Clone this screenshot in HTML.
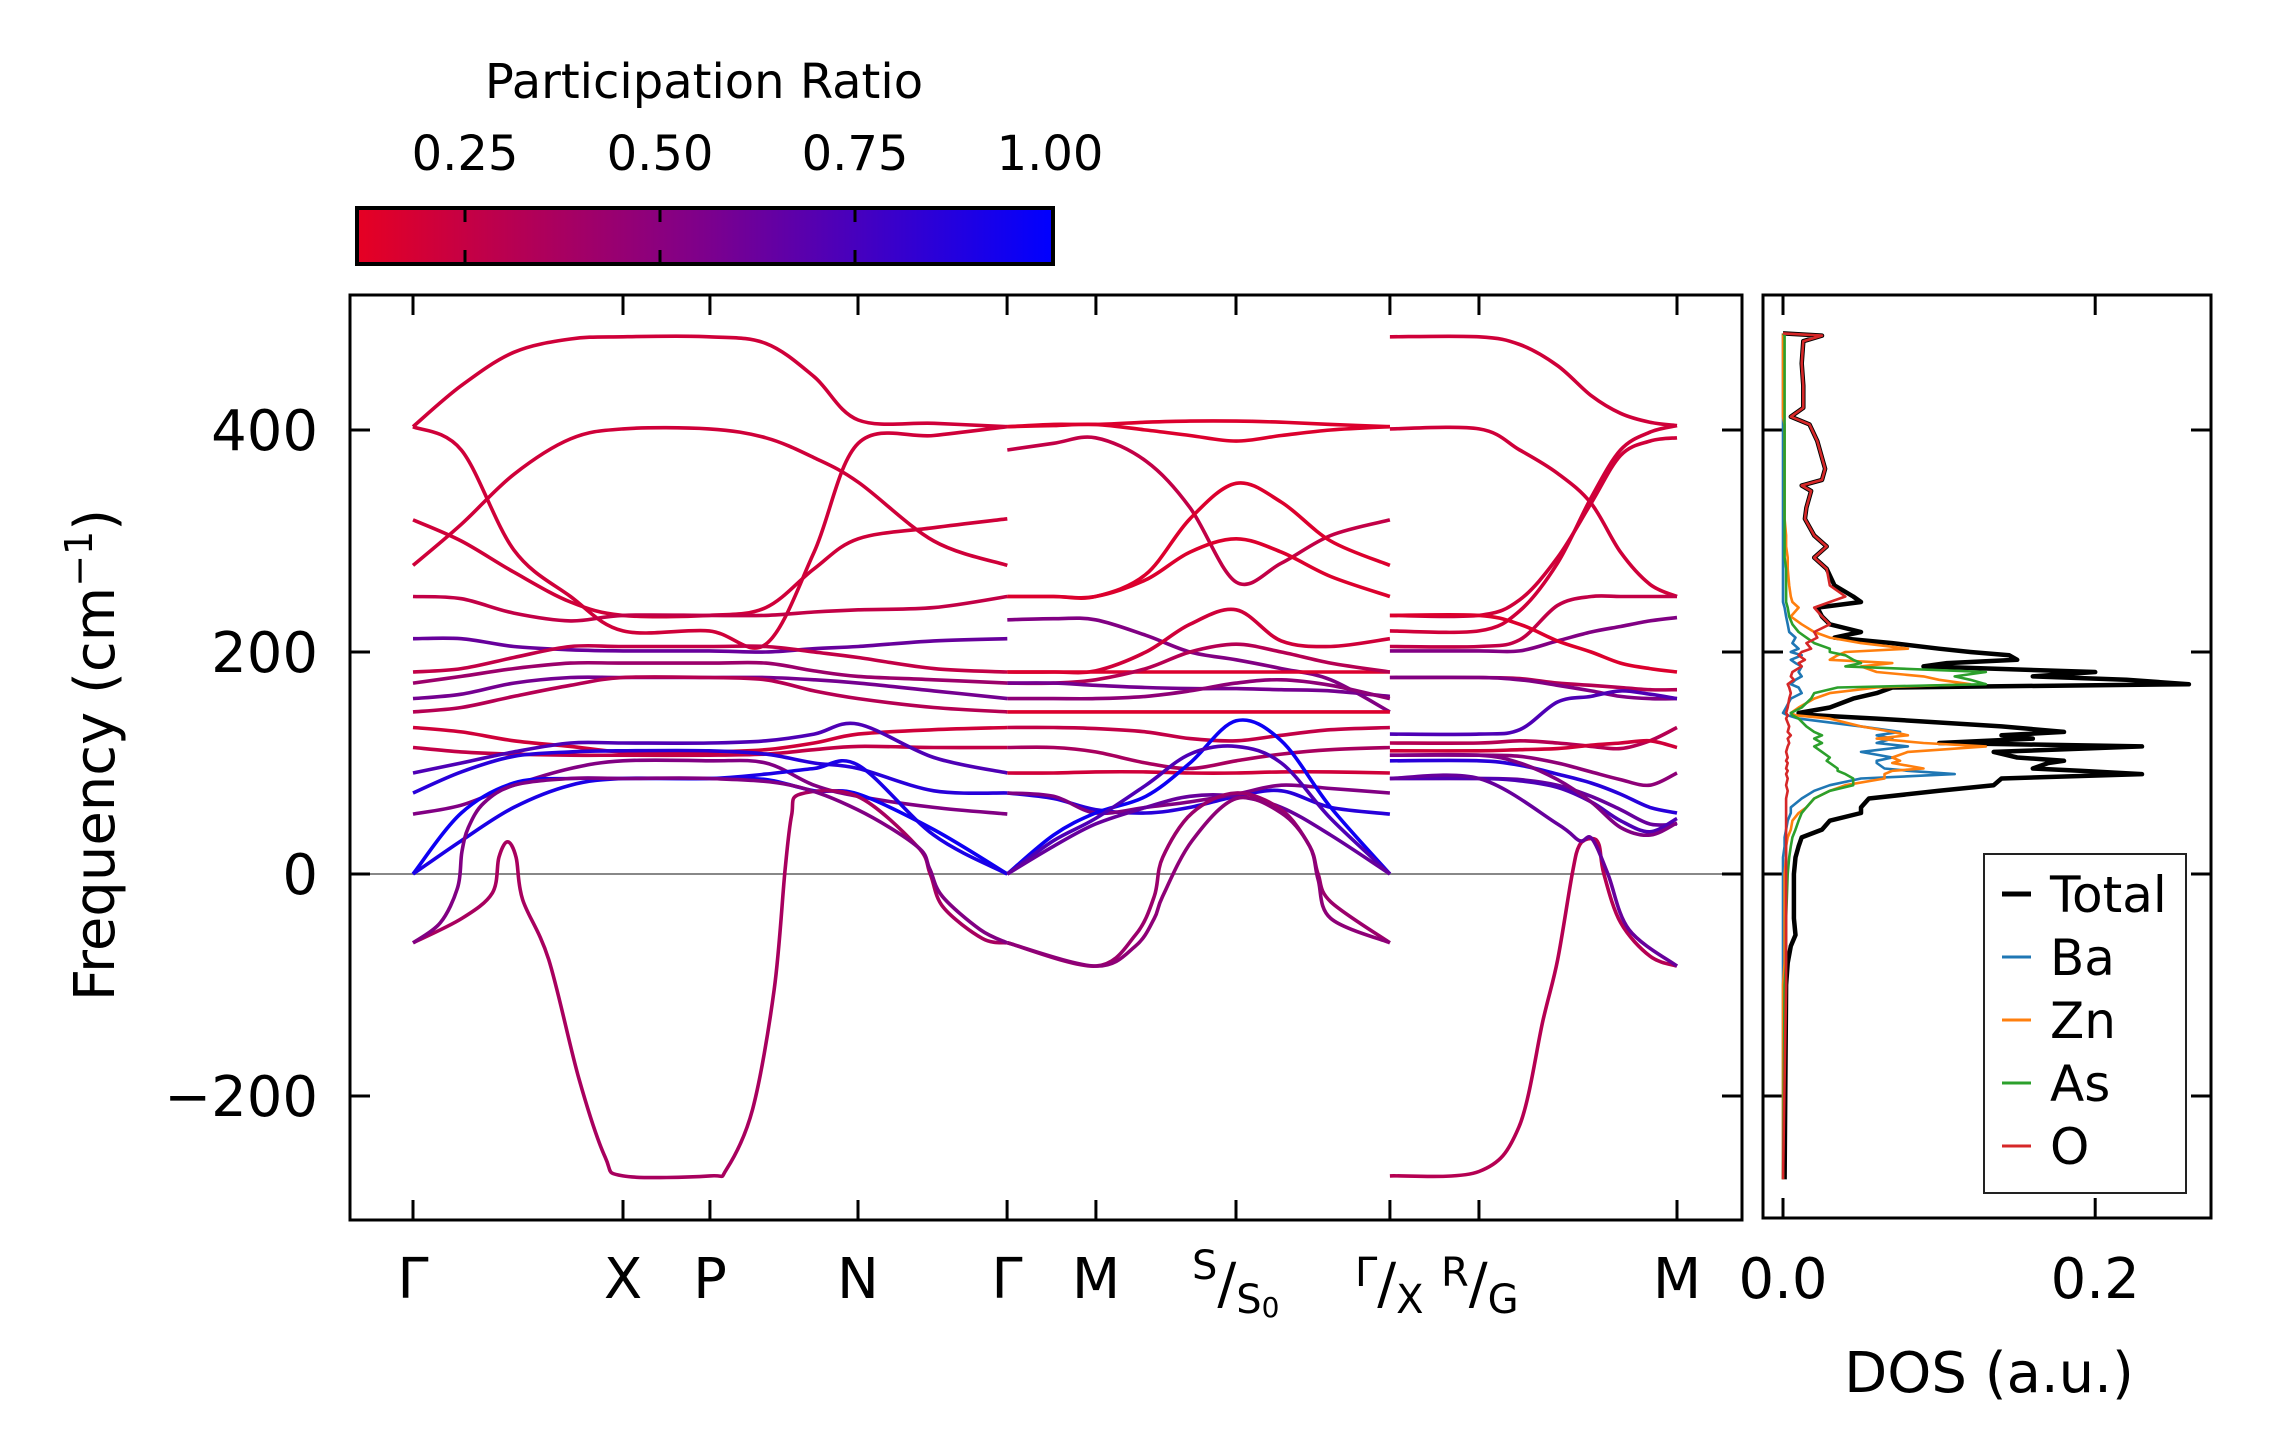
<!DOCTYPE html>
<html><head><meta charset="utf-8">
<style>
html,body{margin:0;padding:0;background:#fff;}
svg{display:block;font-family:"DejaVu Sans","Liberation Sans",sans-serif;}
</style></head>
<body>
<svg id="fig" width="2271" height="1455" viewBox="0 0 2271 1455" xmlns="http://www.w3.org/2000/svg">
<defs>
<linearGradient id="cmap" x1="0" x2="1" y1="0" y2="0">
<stop offset="0" stop-color="rgb(230,0,35)"/>
<stop offset="0.5" stop-color="rgb(125,0,140)"/>
<stop offset="1" stop-color="rgb(0,0,255)"/>
</linearGradient>
<clipPath id="mainclip"><rect x="350" y="295" width="1392" height="925"/></clipPath>
<clipPath id="dosclip"><rect x="1763" y="295" width="448" height="925"/></clipPath>
</defs>
<g>
<text x="704" y="98" font-size="48" text-anchor="middle">Participation Ratio</text>
<rect x="357" y="208" width="696" height="56" fill="url(#cmap)" stroke="#000" stroke-width="4"/>
<g id="cbticks"></g>
</g>
<g id="main">
<line x1="350" y1="874" x2="1742" y2="874" stroke="#888" stroke-width="2"/>
<g id="bands" clip-path="url(#mainclip)"></g>
<rect x="350" y="295" width="1392" height="925" fill="none" stroke="#000" stroke-width="3"/>
<g id="mainticks"></g>
<text x="0" y="0" font-size="56" text-anchor="middle" transform="translate(114,755) rotate(-90)">Frequency (cm<tspan dy="-22" font-size="38">−1</tspan><tspan dy="22">)</tspan></text>
<g font-size="56">
<text x="413" y="1298" text-anchor="middle">Γ</text>
<text x="623" y="1298" text-anchor="middle">X</text>
<text x="710" y="1298" text-anchor="middle">P</text>
<text x="858" y="1298" text-anchor="middle">N</text>
<text x="1007" y="1298" text-anchor="middle">Γ</text>
<text x="1096" y="1298" text-anchor="middle">M</text>
<text x="1677" y="1298" text-anchor="middle">M</text>
<text x="1192" y="1279" font-size="40">S<tspan font-size="56" dy="24">/</tspan><tspan font-size="40" dy="10">S</tspan><tspan font-size="28" dy="4">0</tspan></text>
<text x="1355" y="1286" font-size="40">Γ<tspan font-size="56" dy="17">/</tspan><tspan font-size="40" dy="10">X</tspan></text>
<text x="1441" y="1286" font-size="40">R<tspan font-size="56" dy="17">/</tspan><tspan font-size="40" dy="10">G</tspan></text>
</g>
</g>
<g id="dos">
<g id="doslines" clip-path="url(#dosclip)"></g>
<rect x="1763" y="295" width="448" height="923" fill="none" stroke="#000" stroke-width="3"/>
<g id="dosticks"></g>
<text x="1989" y="1392" font-size="56" text-anchor="middle">DOS (a.u.)</text>
<g>
<rect x="1984" y="854" width="202" height="339" fill="#fff" stroke="#222" stroke-width="2"/>
<g id="legend"></g>
</g>
</g>
<g id="yticklabels" font-size="56" text-anchor="end"></g>
</svg>
<script>
const freqTicks = [400, 200, 0, -200];
const freqTickLabels = ["400", "200", "0", "\u2212200"];
const kTicks = [0, 1.0, 1.414, 2.119, 2.829, 3.252, 3.919, 4.652, 5.076, 6.019];
const cbTicks = [0.25, 0.50, 0.75, 1.00];
const cbTickLabels = ["0.25", "0.50", "0.75", "1.00"];
const dosTicks = [0.0, 0.2];
const dosTickLabels = ["0.0", "0.2"];

const seg1K = [0, 0.23, 0.48, 0.75, 1.0, 1.41, 1.68, 1.91, 2.12, 2.48, 2.83];
const seg1Bands = [
 [403,440,470,482,484,484,478,448,409,406,403],
 [403,382,292,250,219,219,207,290,388,395,403],
 [278,315,360,392,401,401,393,375,353,300,278],
 [319,300,272,245,233,233,240,275,302,312,320],
 [250,248,235,228,233,233,233,236,238,240,250],
 [212,212,205,202,201,201,200,203,205,210,212],
 [182,185,195,205,205,205,205,200,195,185,182],
 [172,178,185,190,190,190,190,183,178,175,172],
 [158,162,172,177,177,177,177,175,172,165,158],
 [146,150,160,170,177,177,175,165,158,150,146],
 [132,128,120,115,110,110,112,118,126,130,132],
 [114,110,108,107,107,107,108,112,115,114,114],
 [91,100,110,118,118,118,120,126,135,105,91],
 [73,92,106,110,111,111,108,100,95,75,73],
 [54,62,80,95,102,102,100,80,70,60,54],
 [0,55,82,86,86,86,85,75,72,40,0],
 [0,30,60,80,86,86,90,95,98,35,0]
];
const seg1PR = [0.2,0.2,0.2,0.2,0.25,0.6,0.25,0.4,0.55,0.3,0.2,0.25,0.7,0.85,0.5,0.95,0.9];
const seg1SoftAK = [0,0.233,0.378,0.409,0.45,0.491,0.522,0.646,0.791,0.915,1.0,1.414,1.493,1.617,1.72,1.772,1.803,1.844,2.116,2.401,2.463,2.525,2.711,2.829];
const seg1SoftAF = [-62,-40,-17,15,29,15,-23,-77,-185,-255,-272,-272,-266,-212,-104,4,53,72,70,25,0,-30,-58,-62];
const seg1SoftBK = [0,0.13,0.213,0.233,0.264,0.337,0.481,0.75,1.0,1.414,1.8,2.116,2.40,2.46,2.52,2.70,2.829];
const seg1SoftBF = [-62,-44,-12,20,42,64,80,86,86,86,80,58,25,5,-20,-50,-62];

const seg2K = [2.83, 3.05, 3.25, 3.49, 3.70, 3.92, 4.135, 4.37, 4.652];
const seg2Bands = [
 [403,405,405,407,408,408,407,405,403],
 [403,404,405,400,395,390,395,400,403],
 [382,388,393,372,330,263,280,305,319],
 [250,250,250,270,320,352,335,300,278],
 [250,250,250,265,290,302,290,268,250],
 [229,230,229,215,200,193,185,175,146],
 [182,182,183,200,225,238,210,205,212],
 [182,182,182,182,182,182,182,182,182],
 [172,172,175,185,200,207,200,190,182],
 [172,172,170,168,167,167,166,165,160],
 [158,158,158,160,165,172,175,170,158],
 [146,146,146,146,146,146,146,146,146],
 [132,132,131,128,122,120,125,130,132],
 [114,114,110,100,95,102,108,112,114],
 [91,91,92,92,91,91,92,92,91],
 [73,68,58,55,60,70,75,60,54],
 [73,70,55,60,65,72,80,77,73],
 [0,35,55,70,100,138,120,60,0],
 [0,30,50,80,108,115,100,50,0],
 [0,25,45,60,70,70,60,35,0]
];
const seg2PR = [0.15,0.15,0.25,0.15,0.15,0.5,0.2,0.15,0.3,0.55,0.45,0.15,0.25,0.35,0.2,0.85,0.5,0.95,0.7,0.6];
const seg2SoftK = [2.83,3.25,3.44,3.53,3.57,3.71,3.92,4.135,4.27,4.31,4.37,4.652];
const seg2SoftAF = [-62,-83,-55,-20,15,55,73,58,25,0,-25,-62];
const seg2SoftBF = [-62,-83,-65,-40,-20,30,68,55,25,-5,-40,-62];

const seg3K = [4.652, 5.076, 5.27, 5.45, 5.61, 5.75, 5.89, 6.019];
const seg3Bands = [
 [484,484,477,458,431,415,407,404],
 [401,401,382,361,334,290,261,250],
 [233,233,247,285,334,377,390,393],
 [219,219,237,280,339,382,398,404],
 [205,205,211,242,250,250,250,250],
 [201,201,201,210,218,223,228,231],
 [233,233,225,210,200,190,185,182],
 [177,177,176,172,170,168,166,166],
 [177,177,175,170,165,160,158,158],
 [126,126,130,155,160,165,162,158],
 [118,118,120,118,115,113,120,132],
 [111,111,112,113,116,118,120,114],
 [107,107,106,100,92,85,80,91],
 [102,102,98,90,82,72,60,55],
 [86,86,85,80,70,58,45,45],
 [86,86,84,78,65,48,38,50],
 [107,107,100,85,65,42,35,46]
];
const seg3PR = [0.2,0.2,0.2,0.2,0.25,0.5,0.15,0.3,0.5,0.7,0.3,0.2,0.45,0.85,0.6,0.7,0.5];
const seg3SoftAK = [4.652,5.076,5.266,5.382,5.451,5.52,5.555,5.613,5.648,5.671,5.751,5.89,6.019];
const seg3SoftAF = [-272,-268,-228,-131,-77,0,26,32,26,0,-44,-74,-83];
const seg3SoftBK = [4.652,5.076,5.45,5.555,5.613,5.69,5.79,6.019];
const seg3SoftBF = [86,86,45,30,32,0,-50,-83];

const dosFreq = [487,485,480,460,440,420,412,405,390,365,355,350,345,330,320,305,295,285,275,260,250,245,240,232,225,218,213,208,203,200,197,193,190,187,182,178,175,171,168,163,158,150,145,143,140,133,128,125,122,118,115,110,105,102,100,95,93,90,86,80,75,68,60,55,48,40,33,25,15,0,-40,-55,-65,-80,-100,-275];
const dosTotal = [0,0.025,0.013,0.012,0.013,0.013,0.005,0.017,0.022,0.027,0.025,0.012,0.018,0.015,0.014,0.02,0.028,0.02,0.028,0.033,0.045,0.05,0.022,0.025,0.03,0.05,0.033,0.07,0.1,0.12,0.145,0.15,0.105,0.09,0.2,0.16,0.22,0.26,0.07,0.06,0.045,0.03,0.01,0.02,0.06,0.14,0.18,0.14,0.16,0.1,0.23,0.135,0.15,0.18,0.17,0.16,0.19,0.23,0.14,0.135,0.1,0.055,0.05,0.05,0.03,0.025,0.012,0.01,0.008,0.007,0.007,0.008,0.005,0.003,0.002,0.001];
const dosO = [0,0.025,0.013,0.012,0.013,0.013,0.005,0.017,0.022,0.027,0.025,0.012,0.018,0.015,0.014,0.02,0.028,0.02,0.028,0.03,0.04,0.03,0.02,0.025,0.03,0.02,0.022,0.015,0.018,0.012,0.01,0.014,0.01,0.012,0.006,0.005,0.007,0.003,0.004,0.005,0.004,0.003,0.002,0.003,0.002,0.004,0.003,0.005,0.003,0.004,0.003,0.002,0.003,0.002,0.003,0.002,0.003,0.002,0.003,0.002,0.003,0.002,0.002,0.002,0.002,0.002,0.002,0.002,0.002,0.002,0.002,0.002,0.002,0.002,0.002,0];
const dosZn = [0,0,0,0,0,0,0,0.001,0.001,0.001,0.001,0.001,0.001,0.001,0.001,0.002,0.002,0.003,0.003,0.004,0.005,0.006,0.01,0.005,0.012,0.02,0.03,0.05,0.08,0.04,0.035,0.03,0.07,0.05,0.06,0.09,0.1,0.12,0.06,0.03,0.02,0.01,0.005,0.008,0.03,0.05,0.07,0.08,0.06,0.09,0.13,0.08,0.07,0.075,0.07,0.09,0.07,0.065,0.065,0.04,0.03,0.02,0.015,0.01,0.006,0.005,0.003,0.002,0.002,0.001,0.001,0.001,0.001,0.001,0,0];
const dosBa = [0,0,0,0,0,0,0,0,0,0,0,0,0,0,0,0,0,0,0,0,0,0,0.001,0.002,0.003,0.004,0.008,0.006,0.01,0.005,0.012,0.005,0.008,0.012,0.01,0.012,0.008,0.005,0.01,0.012,0.005,0.002,0,0.003,0.01,0.05,0.075,0.06,0.07,0.06,0.08,0.05,0.07,0.06,0.06,0.065,0.08,0.11,0.05,0.03,0.02,0.012,0.005,0.005,0.003,0.002,0.001,0.001,0,0,0,0,0,0,0,0];
const dosAs = [0,0.001,0.001,0.001,0.001,0.001,0.001,0.001,0.001,0.001,0.001,0.001,0.001,0.001,0.001,0.001,0.001,0.001,0.002,0.002,0.002,0.002,0.003,0.004,0.006,0.01,0.015,0.02,0.03,0.03,0.04,0.045,0.05,0.04,0.13,0.11,0.12,0.13,0.035,0.02,0.018,0.012,0.005,0.006,0.01,0.015,0.02,0.025,0.02,0.025,0.02,0.025,0.03,0.028,0.03,0.035,0.035,0.04,0.045,0.045,0.03,0.02,0.015,0.012,0.01,0.008,0.006,0.005,0.004,0.003,0.002,0.002,0.002,0.002,0.001,0];
const dosNames = ["Total","Ba","Zn","As","O"];
const dosColors = ["#000000","#1f77b4","#ff7f0e","#2ca02c","#d62728"];

const NS = "http://www.w3.org/2000/svg";
function xk(k){ return 413 + k*210; }
function yf(f){ return 874 - f*1.11; }
function xd(d){ return 1783 + d*1561; }
function xcb(v){ return 270 + v*780; }
function prColor(pr){
  let t = (pr-0.11)/0.89; t = Math.max(0, Math.min(1, t));
  const r = Math.round(230*(1-t)), b = Math.round(35 + 220*t);
  return "rgb(" + r + ",0," + b + ")";
}
function smoothPath(pts){
  let d = "M" + pts[0][0].toFixed(1) + "," + pts[0][1].toFixed(1);
  for(let i=0;i<pts.length-1;i++){
    const p0 = pts[Math.max(0,i-1)], p1 = pts[i], p2 = pts[i+1], p3 = pts[Math.min(pts.length-1,i+2)];
    const c1x = p1[0] + (p2[0]-p0[0])/6, c1y = p1[1] + (p2[1]-p0[1])/6;
    const c2x = p2[0] - (p3[0]-p1[0])/6, c2y = p2[1] - (p3[1]-p1[1])/6;
    d += " C" + c1x.toFixed(1) + "," + c1y.toFixed(1) + " " + c2x.toFixed(1) + "," + c2y.toFixed(1) + " " + p2[0].toFixed(1) + "," + p2[1].toFixed(1);
  }
  return d;
}
function line(parent, x1, y1, x2, y2, w, c){
  const l = document.createElementNS(NS, "line");
  l.setAttribute("x1", x1); l.setAttribute("y1", y1); l.setAttribute("x2", x2); l.setAttribute("y2", y2);
  l.setAttribute("stroke", c || "#000"); l.setAttribute("stroke-width", w);
  parent.appendChild(l);
  return l;
}
function text(parent, x, y, s, size, anchor){
  const t = document.createElementNS(NS, "text");
  t.setAttribute("x", x); t.setAttribute("y", y); t.setAttribute("font-size", size);
  t.setAttribute("text-anchor", anchor || "middle");
  t.textContent = s;
  parent.appendChild(t);
  return t;
}

const bandsG = document.getElementById("bands");
function drawBand(K, F, pr, name){
  const pts = K.map((k,i)=>[xk(k), yf(F[i])]);
  const p = document.createElementNS(NS, "path");
  p.setAttribute("d", smoothPath(pts));
  p.setAttribute("fill", "none");
  p.setAttribute("stroke", prColor(pr));
  p.setAttribute("stroke-width", "3.6");
  p.setAttribute("stroke-linejoin", "round");
  
  
  bandsG.appendChild(p);
}
seg1Bands.forEach((b,i)=>drawBand(seg1K, b, seg1PR[i], "band-seg1-" + i));
drawBand(seg1SoftAK, seg1SoftAF, 0.35, "soft-mode-seg1-a");
drawBand(seg1SoftBK, seg1SoftBF, 0.5, "soft-mode-seg1-b");
seg2Bands.forEach((b,i)=>drawBand(seg2K, b, seg2PR[i], "band-seg2-" + i));
drawBand(seg2SoftK, seg2SoftAF, 0.4, "soft-mode-seg2-a");
drawBand(seg2SoftK, seg2SoftBF, 0.45, "soft-mode-seg2-b");
seg3Bands.forEach((b,i)=>drawBand(seg3K, b, seg3PR[i], "band-seg3-" + i));
drawBand(seg3SoftAK, seg3SoftAF, 0.3, "soft-mode-seg3-a");
drawBand(seg3SoftBK, seg3SoftBF, 0.6, "soft-mode-seg3-b");

const mt = document.getElementById("mainticks");
kTicks.forEach(k=>{
  line(mt, xk(k), 295, xk(k), 315, 3);
  line(mt, xk(k), 1220, xk(k), 1200, 3);
});
const ytl = document.getElementById("yticklabels");
freqTicks.forEach((f,i)=>{
  line(mt, 350, yf(f), 370, yf(f), 3);
  line(mt, 1742, yf(f), 1722, yf(f), 3);
  line(mt, 1763, yf(f), 1783, yf(f), 3);
  line(mt, 2211, yf(f), 2191, yf(f), 3);
  const t = text(ytl, 318, yf(f)+20, freqTickLabels[i], 56, "end");
  
  
});

const cbt = document.getElementById("cbticks");
cbTicks.forEach((v,i)=>{
  if (v < 1) {
    line(cbt, xcb(v), 208, xcb(v), 222, 3);
    line(cbt, xcb(v), 264, xcb(v), 250, 3);
  }
  const t = text(cbt, xcb(v), 170, cbTickLabels[i], 48, "middle");
  
  
});

const dl = document.getElementById("doslines");
const dosSeries = [dosTotal, dosBa, dosZn, dosAs, dosO];
dosSeries.forEach((s,i)=>{
  const pts = dosFreq.map((f,j)=>xd(s[j]).toFixed(1) + "," + yf(f).toFixed(1)).join(" ");
  const pl = document.createElementNS(NS, "polyline");
  pl.setAttribute("points", pts);
  pl.setAttribute("fill", "none");
  pl.setAttribute("stroke", dosColors[i]);
  pl.setAttribute("stroke-width", i===0 ? 4.5 : 2.6);
  pl.setAttribute("stroke-linejoin", "round");
  
  
  if (i===0) dl.insertBefore(pl, dl.firstChild); else dl.appendChild(pl);
});
const dt = document.getElementById("dosticks");
dosTicks.forEach((d,i)=>{
  line(dt, xd(d), 295, xd(d), 315, 3);
  line(dt, xd(d), 1218, xd(d), 1198, 3);
  const t = text(dt, xd(d), 1298, dosTickLabels[i], 56, "middle");
  
  
});
const lg = document.getElementById("legend");
dosNames.forEach((n,i)=>{
  const cy = 894 + i*63;
  const l = line(lg, 2002, cy, 2031, cy, i===0 ? 5 : 3, dosColors[i]);
  
  
  const t = text(lg, 2050, cy+18, n, 50, "start");
  
  
});
</script>
</body></html>
